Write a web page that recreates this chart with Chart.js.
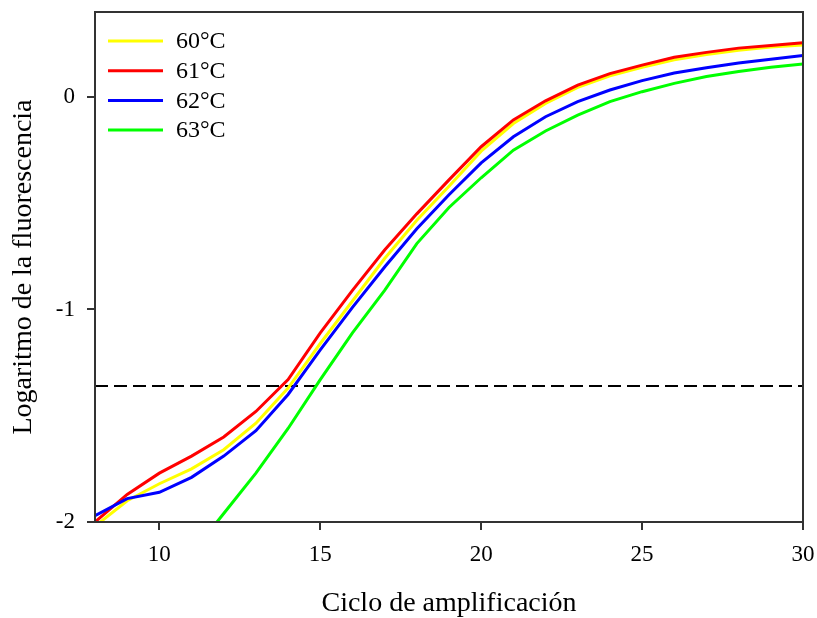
<!DOCTYPE html>
<html lang="es">
<head>
<meta charset="UTF-8" />
<title>Logaritmo de la fluorescencia</title>
<script src="https://cdn.jsdelivr.net/npm/chart.js"></script>
<style>
    body { margin: 0; background: white; }
    .wrap { width: 817px; height: 618px; }
</style>
</head>
<body>
<div class="wrap"><canvas id="chart" width="817" height="618"></canvas></div>
<script>
    // ciclos y valores
    const cycles = [8, 9, 10, 11, 12, 13, 14, 15, 16, 17, 18, 19, 20, 21, 22, 23, 24, 25, 26, 27, 28, 29, 30];
    const t60 = [-2.02, -1.90, -1.82, -1.75, -1.66, -1.535, -1.37, -1.16, -0.96, -0.76, -0.58, -0.42, -0.255, -0.125, -0.03, 0.045, 0.10, 0.14, 0.175, 0.20, 0.22, 0.235, 0.245];
    const t61 = [-2.0, -1.87, -1.77, -1.69, -1.60, -1.48, -1.33, -1.11, -0.91, -0.72, -0.55, -0.39, -0.234, -0.108, -0.018, 0.056, 0.11, 0.15, 0.187, 0.21, 0.23, 0.242, 0.255];
    const t62 = [-1.97, -1.89, -1.86, -1.79, -1.69, -1.57, -1.40, -1.19, -0.99, -0.80, -0.62, -0.46, -0.31, -0.187, -0.093, -0.022, 0.033, 0.077, 0.113, 0.138, 0.16, 0.178, 0.195];
    const t63 = [null, null, null, -2.15, -1.96, -1.77, -1.56, -1.33, -1.11, -0.91, -0.69, -0.52, -0.38, -0.25, -0.16, -0.085, -0.022, 0.025, 0.064, 0.096, 0.12, 0.14, 0.155];
    const thresholdX = [8, 30];
    const thresholdY = [-1.36, -1.36];
    const yTicks = [-2, -1, 0];
    const xTicks = [10, 15, 20, 25, 30];

    const pts = (xs, ys) => xs.map((x, i) => ({ x: x, y: ys[i] }));
    const serif = '"Liberation Serif", "Times New Roman", serif';

    const frame = {
        id: 'frame',
        afterDraw(chart) {
            const a = chart.chartArea, c = chart.ctx;
            c.save();
            c.strokeStyle = '#333';
            c.lineWidth = 2;
            c.strokeRect(a.left, a.top, a.right - a.left, a.bottom - a.top);
            // leyenda
            c.font = '24px ' + serif;
            c.textBaseline = 'middle';
            c.fillStyle = '#000';
            let row = 0;
            chart.data.datasets.forEach(ds => {
                if (!ds.label) return;
                const y = a.top + 29 + row * 29.7;
                c.strokeStyle = ds.borderColor;
                c.lineWidth = 3;
                c.beginPath();
                c.moveTo(a.left + 13, y);
                c.lineTo(a.left + 68, y);
                c.stroke();
                c.fillText(ds.label, a.left + 81, y + 1);
                row++;
            });
            c.restore();
        }
    };

    const line = (label, ys, color, order) => ({
        label: label,
        data: pts(cycles, ys),
        borderColor: color,
        borderWidth: 3,
        pointRadius: 0,
        tension: 0,
        fill: false,
        order: order
    });

    const noPad = s => { s.paddingTop = 0; s.paddingBottom = 0; s.paddingLeft = 0; s.paddingRight = 0; };

    new Chart(document.getElementById('chart'), {
        type: 'line',
        data: {
            datasets: [
                line('60°C', t60, '#ffff00', 2),
                line('61°C', t61, '#ff0000', 1),
                line('62°C', t62, '#0000ff', 0),
                line('63°C', t63, '#00ff00', 3),
                {
                    label: '',
                    data: pts(thresholdX, thresholdY),
                    borderColor: '#000',
                    borderWidth: 2,
                    borderDash: [13, 6],
                    pointRadius: 0,
                    order: 4
                }
            ]
        },
        options: {
            responsive: false,
            animation: false,
            spanGaps: false,
            layout: { padding: { top: 12, right: 14, left: 0, bottom: 0 } },
            plugins: { legend: { display: false }, tooltip: { enabled: false } },
            scales: {
                x: {
                    type: 'linear',
                    min: 8,
                    max: 30,
                    afterBuildTicks: s => { s.ticks = xTicks.map(v => ({ value: v })); },
                    afterFit: s => { s.height = 96; noPad(s); },
                    grid: { drawOnChartArea: false, drawTicks: true, tickLength: 8, color: '#333', lineWidth: 2 },
                    border: { display: true, color: '#333', width: 2 },
                    ticks: { color: '#000', padding: 11, maxRotation: 0, font: { family: serif, size: 23 } },
                    title: {
                        display: true,
                        text: 'Ciclo de amplificación',
                        color: '#000',
                        padding: { top: 0, bottom: 0 },
                        font: { family: serif, size: 28, lineHeight: 1 }
                    }
                },
                y: {
                    min: -2,
                    max: 0.4,
                    afterBuildTicks: s => { s.ticks = yTicks.map(v => ({ value: v })); },
                    afterFit: s => { s.width = 95; noPad(s); },
                    grid: { drawOnChartArea: false, drawTicks: true, tickLength: 8, color: '#333', lineWidth: 2 },
                    border: { display: true, color: '#333', width: 2 },
                    ticks: { color: '#000', padding: 12, font: { family: serif, size: 23 } },
                    title: {
                        display: true,
                        text: 'Logaritmo de la fluorescencia',
                        color: '#000',
                        padding: { top: 7, bottom: 0 },
                        font: { family: serif, size: 28 }
                    }
                }
            }
        },
        plugins: [frame]
    });
</script>
</body>
</html>
